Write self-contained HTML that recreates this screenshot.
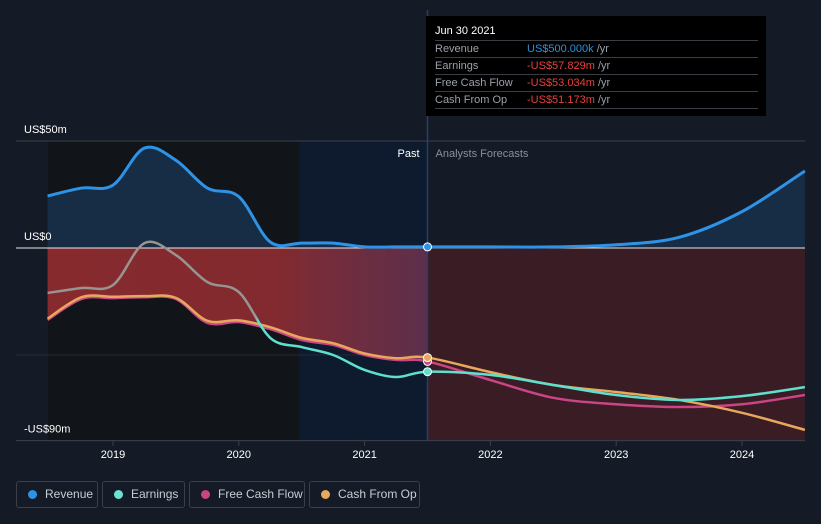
<!DOCTYPE html>
<html><head><meta charset="utf-8"><style>
body{margin:0;background:#151b26;width:821px;height:524px;overflow:hidden;font-family:"Liberation Sans",sans-serif}
svg{position:absolute;left:0;top:0}
.leg{position:absolute;top:481px;height:27px;border:1px solid #3a3f49;border-radius:3px;box-sizing:border-box;color:#c9ccd2;font-size:12px;line-height:25px;padding-left:28px;white-space:nowrap}
.leg i{position:absolute;left:11px;top:8px;width:9px;height:9px;border-radius:50%}
.tip{position:absolute;left:426px;top:16px;width:340px;height:100px;background:#000;font-size:11px;color:#9aa0a8}
.tip .r{position:absolute;left:9px;width:323px;border-top:1px solid #3a3d44;height:16px;line-height:16px}
.tip .v{position:absolute;left:92px}
</style></head><body>
<svg width="821" height="524">
<defs>
<linearGradient id="eg" gradientUnits="userSpaceOnUse" x1="0" y1="0" x2="821" y2="0">
<stop offset="0" stop-color="#9a9490"/><stop offset="0.31" stop-color="#9a9490"/><stop offset="0.315" stop-color="#5ee0cf"/><stop offset="1" stop-color="#5ee0cf"/></linearGradient>
<linearGradient id="rg" x1="0" y1="0" x2="1" y2="0"><stop offset="0" stop-color="#9b2e31"/><stop offset="0.6" stop-color="#962e33"/><stop offset="1" stop-color="#6a3350"/></linearGradient>
</defs>
<rect x="48" y="141" width="251" height="300" fill="#111419"/>
<rect x="299" y="141" width="128" height="300" fill="#0e1a2e"/>
<g id="g"></g>
</svg>
<div class="tip">
<div style="position:absolute;left:9px;top:9px;color:#fff;font-size:11px">Jun 30 2021</div>
<div class="r" style="top:24px">Revenue<span class="v" style="color:#2e8fdf">US$500.000k <span style="color:#9aa0a8">/yr</span></span></div>
<div class="r" style="top:41px">Earnings<span class="v" style="color:#e8403f">-US$57.829m <span style="color:#9aa0a8">/yr</span></span></div>
<div class="r" style="top:58px">Free Cash Flow<span class="v" style="color:#e8403f">-US$53.034m <span style="color:#9aa0a8">/yr</span></span></div>
<div class="r" style="top:75px;border-bottom:1px solid #3a3d44">Cash From Op<span class="v" style="color:#e8403f">-US$51.173m <span style="color:#9aa0a8">/yr</span></span></div>
</div>
<div class="leg" style="left:16px;width:82px"><i style="background:#2e93e6"></i>Revenue</div>
<div class="leg" style="left:102px;width:83px"><i style="background:#6ee3d3"></i>Earnings</div>
<div class="leg" style="left:189px;width:116px"><i style="background:#c94586"></i>Free Cash Flow</div>
<div class="leg" style="left:309px;width:111px"><i style="background:#e8a85c"></i>Cash From Op</div>
<script>
const times=[2018.48,2018.75,2019,2019.25,2019.5,2019.75,2020,2020.25,2020.5,2020.75,2021,2021.25,2021.5,2022,2022.5,2023,2023.5,2024,2024.5];
const revenue=[24.3,28,29.4,46.7,41,28,24,2.8,2.3,2.3,0.5,0.5,0.5,0.5,0.5,1.5,5,17,36];
const earnings=[-21,-18.7,-17.3,2.3,-3.3,-15.9,-20.6,-42,-46.3,-50,-57,-60.3,-57.8,-59.3,-64,-68.7,-71,-69.2,-65];
const fcf=[-33.6,-23.8,-23.4,-23,-23.8,-35,-34.6,-37.9,-43,-45.3,-50,-52.3,-53,-61.7,-70,-73,-74.3,-73,-68.7];
const cfo=[-33,-23,-22.8,-22.5,-23.3,-34,-33.8,-37,-42,-44.5,-49.3,-51.5,-51.2,-58,-64,-67.3,-71,-77,-85];
const yTicks=[50,0,-50,-90];const yLabels=["US$50m","US$0","","-US$90m"];
const xTicks=[2019,2020,2021,2022,2023,2024];
const NOW=2021.5;
const X=t=>113+(t-2019)*125.8, Y=v=>248-v*2.14;
const g=document.getElementById('g'),NS='http://www.w3.org/2000/svg';
function el(tag,a,name){const e=document.createElementNS(NS,tag);for(const k in a)e.setAttribute(k,a[k]);


g.appendChild(e);return e;}
function pts(arr){return arr.map((v,i)=>[X(times[i]),Y(v)]);}
function curve(p){let d='M'+p[0][0]+','+p[0][1];for(let i=0;i<p.length-1;i++){const p0=p[i-1]||p[i],p1=p[i],p2=p[i+1],p3=p[i+2]||p2;
d+=` C${p1[0]+(p2[0]-p0[0])/6},${p1[1]+(p2[1]-p0[1])/6} ${p2[0]-(p3[0]-p1[0])/6},${p2[1]-(p3[1]-p1[1])/6} ${p2[0]},${p2[1]}`;}return d;}
const x0=X(times[0]),x1=X(times[times.length-1]),xn=X(NOW),y0=Y(0);
yTicks.forEach((v,i)=>{if(v!==0)el('line',{x1:16,x2:805,y1:Y(v),y2:Y(v),stroke:i==0?'#3a404b':'#262b34'},'gridline');});
el('rect',{x:xn,y:y0,width:x1-xn,height:Y(-90)-y0,fill:'#3a1d24'},'forecast-loss-fill');
const past=times.findIndex(t=>t>=NOW)+1;
const fp=pts(fcf).slice(0,past);
el('path',{d:curve(fp)+` L${xn},${y0} L${x0},${y0} Z`,fill:'url(#rg)',opacity:0.85},'past-loss-fill');
const rp=pts(revenue);
el('path',{d:curve(rp)+` L${x1},${y0} L${x0},${y0} Z`,fill:'#17304a',opacity:0.9},'revenue-fill');
el('line',{x1:16,x2:805,y1:y0,y2:y0,stroke:'#e6e6e6','stroke-width':1},'zero-line');
el('line',{x1:16,x2:805,y1:Y(-90),y2:Y(-90),stroke:'#3a404b'},'x-axis');
el('line',{x1:xn,x2:xn,y1:10,y2:441,stroke:'#24406a','stroke-width':1.5},'now-line');
yTicks.forEach((v,i)=>{if(yLabels[i]){const t=el('text',{x:24,y:Y(v)-8,fill:'#fff','font-size':11},'y-tick-label');t.textContent=yLabels[i];}});
xTicks.forEach(t=>{el('line',{x1:X(t),x2:X(t),y1:441,y2:446,stroke:'#3a404b'},'x-tick');
const s=el('text',{x:X(t),y:458,fill:'#fff','font-size':11,'text-anchor':'middle'},'x-tick-label');s.textContent=t;});
let s=el('text',{x:xn-8,y:157,fill:'#fff','font-size':11,'text-anchor':'end'},'past-label');s.textContent='Past';
s=el('text',{x:xn+8,y:157,fill:'#8a8f97','font-size':11},'forecast-label');s.textContent='Analysts Forecasts';
el('path',{d:curve(pts(fcf)),fill:'none',stroke:'#c94586','stroke-width':2.5},'free-cash-flow-line');
el('path',{d:curve(pts(cfo)),fill:'none',stroke:'#e8a85c','stroke-width':2.5},'cash-from-op-line');
el('path',{d:curve(pts(earnings)),fill:'none',stroke:'url(#eg)','stroke-width':2.5},'earnings-line');
el('path',{d:curve(rp),fill:'none',stroke:'#2e93e6','stroke-width':3},'revenue-line');
const ni=times.indexOf(NOW);
[[revenue,'#2e93e6'],[earnings,'#5ee0cf'],[fcf,'#c94586'],[cfo,'#e8a85c']].forEach(([a,c])=>el('circle',{cx:xn,cy:Y(a[ni]),r:4,fill:c,stroke:'#fff','stroke-width':1},'now-marker'));
</script>
</body></html>
